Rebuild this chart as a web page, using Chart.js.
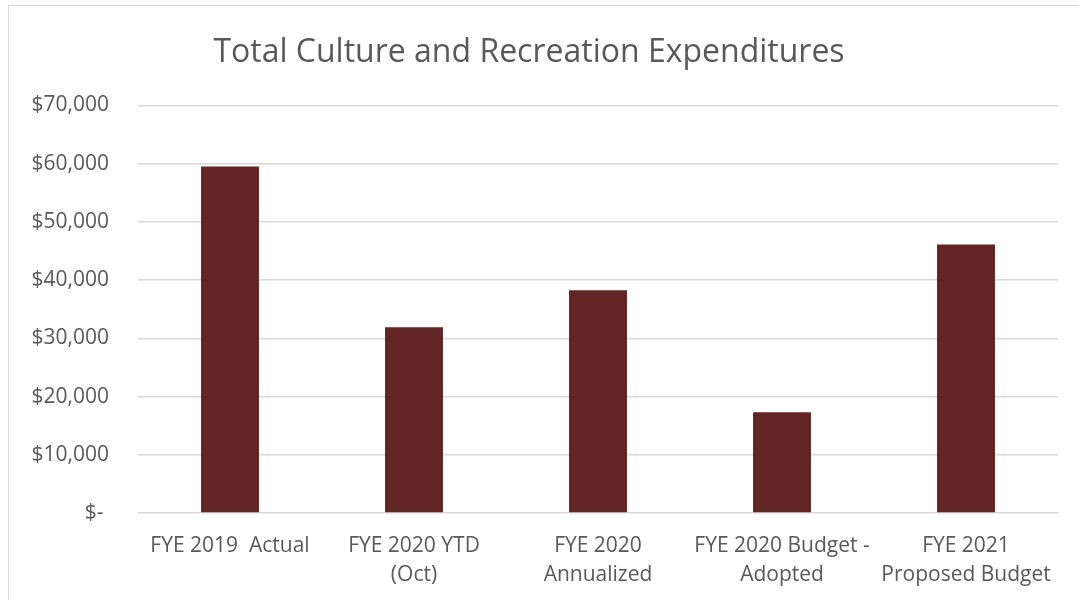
<!DOCTYPE html>
<html>
<head>
<meta charset="utf-8">
<script src="https://cdn.jsdelivr.net/npm/chart.js@4"></script>
<style>
  body { margin: 0; background: #fff; }
  #wrap { position: relative; width: 1079px; height: 600px; overflow: hidden; }
  #frame { position: absolute; left: 8px; top: 5px; width: 1100px; height: 640px; border: 1px solid #d9d9d9; box-sizing: border-box; }
  #chart { position: absolute; left: 0; top: 0; }
</style>
</head>
<body>
<div id="wrap">
  <div id="frame"></div>
  <canvas id="chart" width="1079" height="600"></canvas>
</div>
<script>
// values
const categories = [
  ['FYE 2019  Actual'],
  ['FYE 2020 YTD', '(Oct)'],
  ['FYE 2020', 'Annualized'],
  ['FYE 2020 Budget -', 'Adopted'],
  ['FYE 2021', 'Proposed Budget']
];
const expenditures = [59500, 31900, 38250, 17300, 46100];
const yTicks = [0, 10000, 20000, 30000, 40000, 50000, 60000, 70000];

const textColor = '#595959';
const font = 'Open Sans';

const ctx = document.getElementById('chart').getContext('2d');
new Chart(ctx, {
  type: 'bar',
  data: {
    labels: categories,
    datasets: [{
      label: 'Total Culture and Recreation Expenditures',
      data: expenditures,
      backgroundColor: '#632523',
      barPercentage: 0.315,
      categoryPercentage: 1
    }]
  },
  options: {
    responsive: false,
    animation: false,
    layout: { padding: { left: 0, right: 21, top: 0, bottom: 0 } },
    plugins: {
      legend: { display: false },
      tooltip: { enabled: false },
      title: {
        display: true,
        text: 'Total Culture and Recreation Expenditures',
        color: textColor,
        font: { family: font, size: 32, weight: 'normal', lineHeight: 1.2 },
        padding: { top: 34, bottom: 33 }
      }
    },
    scales: {
      x: {
        grid: { display: false, drawTicks: false },
        border: { display: false },
        ticks: {
          color: textColor,
          font: { family: font, size: 21, lineHeight: 1.4 },
          padding: 18,
          maxRotation: 0,
          autoSkip: false
        },
        afterFit: s => { s.height = 87; }
      },
      y: {
        min: 0,
        max: 70000,
        afterBuildTicks: s => { s.ticks = yTicks.map(v => ({ value: v })); },
        grid: { color: '#d9d9d9', lineWidth: 1.5, drawTicks: false },
        border: { display: false },
        ticks: {
          color: textColor,
          font: { family: font, size: 21 },
          padding: 29,
          callback: v => v === 0 ? '$- ' : '$' + v.toLocaleString('en-US')
        },
        afterFit: s => { s.width = 138; }
      }
    }
  }
});
</script>
</body>
</html>
